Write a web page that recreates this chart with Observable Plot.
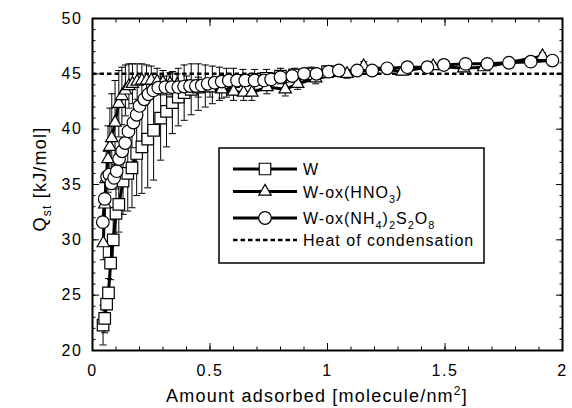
<!DOCTYPE html>
<html><head><meta charset="utf-8">
<script src="https://cdn.jsdelivr.net/npm/d3@7"></script>
<script src="https://cdn.jsdelivr.net/npm/@observablehq/plot@0.6"></script>
<style>
body{margin:0;background:#fff}
#chart{width:572px;height:408px}
</style>
</head><body><div id="chart"></div>
<script>
// ---- data ----
const wX   = [0.045,0.052,0.060,0.068,0.077,0.088,0.100,0.112,0.130,0.150,0.168,0.188,0.210,0.235,0.260,0.290,0.315,0.340,0.365,0.390,0.420,0.450,0.480,0.510,0.540,0.570,0.600,0.640,0.690,0.740,0.800,0.860,0.930,1.000];
const wY   = [22.3,22.9,24.2,25.2,27.9,30.0,32.4,33.2,35.3,36.0,36.5,37.8,38.4,39.1,39.9,41.0,41.6,42.4,42.9,43.3,43.6,43.8,43.9,44.0,44.1,44.2,44.3,44.4,44.5,44.6,44.8,44.9,45.0,45.2];
const wErr = [1.8,1.3,1.2,1.3,1.5,1.8,2.2,2.5,3.0,3.4,3.6,3.8,4.2,4.4,4.5,3.8,3.2,2.8,2.6,2.5,2.3,2.1,1.9,1.7,1.5,1.3,1.2,1.0,0.9,0.8,0.7,0.6,0.6,0.5];

const hno3X   = [0.046,0.052,0.058,0.066,0.074,0.082,0.096,0.112,0.125,0.140,0.155,0.170,0.190,0.210,0.230,0.250,0.275,0.300,0.330,0.360,0.400,0.450,0.500,0.550,0.600,0.643,0.678,0.742,0.820,0.873,0.950,1.083,1.154,1.318,1.450,1.580,1.665,1.915];
const hno3Y   = [29.7,33.2,35.5,37.3,38.4,39.2,40.6,42.3,43.0,43.5,43.9,44.1,44.3,44.4,44.4,44.4,44.3,44.2,44.1,44.0,43.9,43.8,43.7,43.6,43.4,43.3,43.3,43.8,43.6,44.1,44.6,45.0,45.7,45.2,45.7,45.5,45.6,46.6];
const hno3Err = [1.5,2.0,2.5,3.0,3.5,4.0,3.8,3.0,2.6,2.3,2.0,1.8,1.6,1.5,1.4,1.3,1.2,1.1,1.0,1.0,0.9,0.9,0.8,0.8,0.8,0.7,0.7,0.6,0.6,0.5,0.5,0.4,0.4,0.3,0.3,0.3,0.3,0.3];

const nh4X = [0.044,0.052,0.062,0.072,0.080,0.092,0.103,0.113,0.126,0.139,0.153,0.174,0.188,0.200,0.220,0.238,0.259,0.280,0.310,0.337,0.365,0.390,0.415,0.440,0.465,0.490,0.520,0.550,0.580,0.615,0.650,0.690,0.730,0.760,0.800,0.850,0.900,0.953,1.005,1.048,1.126,1.190,1.254,1.340,1.425,1.495,1.588,1.680,1.772,1.865,1.957];
const nh4Y = [31.6,33.7,35.7,35.9,35.1,35.6,36.2,37.3,38.0,38.75,39.8,40.6,41.3,42.1,42.7,43.15,43.5,43.75,43.8,43.8,43.8,43.85,43.9,43.9,43.95,44.1,44.2,44.3,44.4,44.4,44.4,44.4,44.4,44.5,44.7,44.8,45.0,45.0,45.2,45.3,45.3,45.3,45.5,45.6,45.6,45.8,45.9,45.9,46.0,46.1,46.2];

const heatOfCondensation = [45];

const xTicks = [0, 0.5, 1, 1.5, 2];
const xTickLabels = ["0", "0.5", "1", "1.5", "2"];
const xMinorTicks = [0,0.1,0.2,0.3,0.4,0.5,0.6,0.7,0.8,0.9,1,1.1,1.2,1.3,1.4,1.5,1.6,1.7,1.8,1.9,2];
const yTicks = [20, 25, 30, 35, 40, 45, 50];
const yMinorTicks = d3.range(20, 50.5, 1);

// ---- build tables ----
const wRows    = wX.map((x, i) => ({x, y: wY[i], e: wErr[i]}));
const hno3Rows = hno3X.map((x, i) => ({x, y: hno3Y[i], e: hno3Err[i]}));
const nh4Rows  = nh4X.map((x, i) => ({x, y: nh4Y[i]}));
const errRows  = [...wRows, ...hno3Rows];

const cap = {draw(ctx, size) { const w = Math.sqrt(size) / 2; ctx.moveTo(-w, 0); ctx.lineTo(w, 0); }};
const FONT = "'Liberation Sans', Arial, Helvetica, sans-serif";
const mk = {fill: "white", stroke: "black", strokeWidth: 1.2};

const chart = Plot.plot({
  width: 572, height: 408,
  marginLeft: 92, marginRight: 10, marginTop: 18, marginBottom: 58,
  x: {domain: [0, 2]},
  y: {domain: [20, 50]},
  style: {fontFamily: FONT, fontSize: "16px", background: "white", color: "black", letterSpacing: "1.6px", overflow: "visible"},
  marks: [
    Plot.ruleY(heatOfCondensation, {stroke: "black", strokeWidth: 2.5, strokeDasharray: "4.5,3"}),
    Plot.ruleX(errRows, {x: "x", y1: d => d.y - d.e, y2: d => d.y + d.e, stroke: "black", strokeWidth: 1}),
    Plot.dot(errRows, {x: "x", y: d => d.y - d.e, symbol: cap, r: 4, stroke: "black", fill: "none", strokeWidth: 1}),
    Plot.dot(errRows, {x: "x", y: d => d.y + d.e, symbol: cap, r: 4, stroke: "black", fill: "none", strokeWidth: 1}),
    Plot.line(wRows, {x: "x", y: "y", stroke: "black", strokeWidth: 3}),
    Plot.line(hno3Rows, {x: "x", y: "y", stroke: "black", strokeWidth: 3}),
    Plot.line(nh4Rows, {x: "x", y: "y", stroke: "black", strokeWidth: 3}),
    Plot.dot(wRows, {x: "x", y: "y", symbol: "square", r: 6.5, ...mk}),
    Plot.dot(hno3Rows, {x: "x", y: "y", symbol: "triangle", r: 4.6, ...mk}),
    Plot.dot(nh4Rows, {x: "x", y: "y", symbol: "circle", r: 6.3, ...mk}),
    Plot.frame({stroke: "black", strokeWidth: 2}),
    Plot.axisX(xMinorTicks, {anchor: "bottom", tickSize: -3.5, tickFormat: () => "", label: null}),
    Plot.axisX(xTicks, {anchor: "bottom", tickSize: -7, tickFormat: () => "", label: null}),
    Plot.axisX(xMinorTicks, {anchor: "top", tickSize: -3.5, tickFormat: () => "", label: null}),
    Plot.axisX(xTicks, {anchor: "top", tickSize: -7, tickFormat: () => "", label: null}),
    Plot.axisX(xTicks, {anchor: "bottom", tickSize: 0, tickPadding: 14, tickFormat: (d, i) => xTickLabels[i], label: null}),
    Plot.axisY(yMinorTicks, {anchor: "left", tickSize: -3.5, tickFormat: () => "", label: null}),
    Plot.axisY(yTicks, {anchor: "left", tickSize: -7, tickFormat: () => "", label: null}),
    Plot.axisY(yMinorTicks, {anchor: "right", tickSize: -3.5, tickFormat: () => "", label: null}),
    Plot.axisY(yTicks, {anchor: "right", tickSize: -7, tickFormat: () => "", label: null}),
    Plot.axisY(yTicks, {anchor: "left", tickSize: 0, tickPadding: 10, label: null})
  ]
});
document.getElementById("chart").appendChild(chart);

// ---- axis titles ----
const svg = d3.select(chart);
const xt = svg.append("text").attr("x", 317).attr("y", 402).attr("text-anchor", "middle")
  .attr("font-family", FONT).attr("font-size", 18).attr("letter-spacing", "1.2px").attr("fill", "black");
xt.append("tspan").text("Amount adsorbed [molecule/nm");
xt.append("tspan").attr("dy", -7).attr("font-size", 12).text("2");
xt.append("tspan").attr("dy", 7).text("]");

const yt = svg.append("text").attr("transform", "translate(46,179) rotate(-90)").attr("text-anchor", "middle")
  .attr("font-family", FONT).attr("font-size", 18).attr("letter-spacing", "1.2px").attr("fill", "black");
yt.append("tspan").text("Q");
yt.append("tspan").attr("dy", 5).attr("font-size", 12).text("st");
yt.append("tspan").attr("dy", -5).text(" [kJ/mol]");

// ---- legend ----
const lg = svg.append("g").attr("transform", "translate(219,148)");
lg.append("rect").attr("width", 265).attr("height", 115).attr("fill", "white").attr("stroke", "black").attr("stroke-width", 1.5);
const legendRows = [
  {y: 21, sym: d3.symbolSquare, r: 6.5, parts: [["W", 0]]},
  {y: 43.5, sym: d3.symbolTriangle, r: 4.6, parts: [["W-ox(HNO", 0], ["3", 1], [")", 0]]},
  {y: 70, sym: d3.symbolCircle, r: 6.3, parts: [["W-ox(NH", 0], ["4", 1], [")", 0], ["2", 1], ["S", 0], ["2", 1], ["O", 0], ["8", 1]]},
  {y: 92, sym: null, parts: [["Heat of condensation", 0]]}
];
legendRows.forEach(row => {
  if (row.sym) {
    lg.append("line").attr("x1", 14).attr("x2", 78).attr("y1", row.y).attr("y2", row.y).attr("stroke", "black").attr("stroke-width", 3);
    lg.append("path").attr("transform", `translate(46,${row.y})`)
      .attr("d", d3.symbol(row.sym, Math.PI * row.r * row.r)())
      .attr("fill", "white").attr("stroke", "black").attr("stroke-width", 1.2);
  } else {
    lg.append("line").attr("x1", 14).attr("x2", 78).attr("y1", row.y).attr("y2", row.y).attr("stroke", "black").attr("stroke-width", 2.5).attr("stroke-dasharray", "4.5,3");
  }
  const t = lg.append("text").attr("x", 84).attr("y", row.y + 6).attr("text-anchor", "start")
    .attr("font-family", FONT).attr("font-size", 16).attr("letter-spacing", "1px").attr("fill", "black");
  let prev = 0;
  row.parts.forEach(([s, sub]) => {
    const dy = (sub ? 5 : 0) - (prev ? 5 : 0);
    t.append("tspan").attr("dy", dy).attr("font-size", sub ? 11 : 16).text(s);
    prev = sub;
  });
});
</script>
</body></html>
